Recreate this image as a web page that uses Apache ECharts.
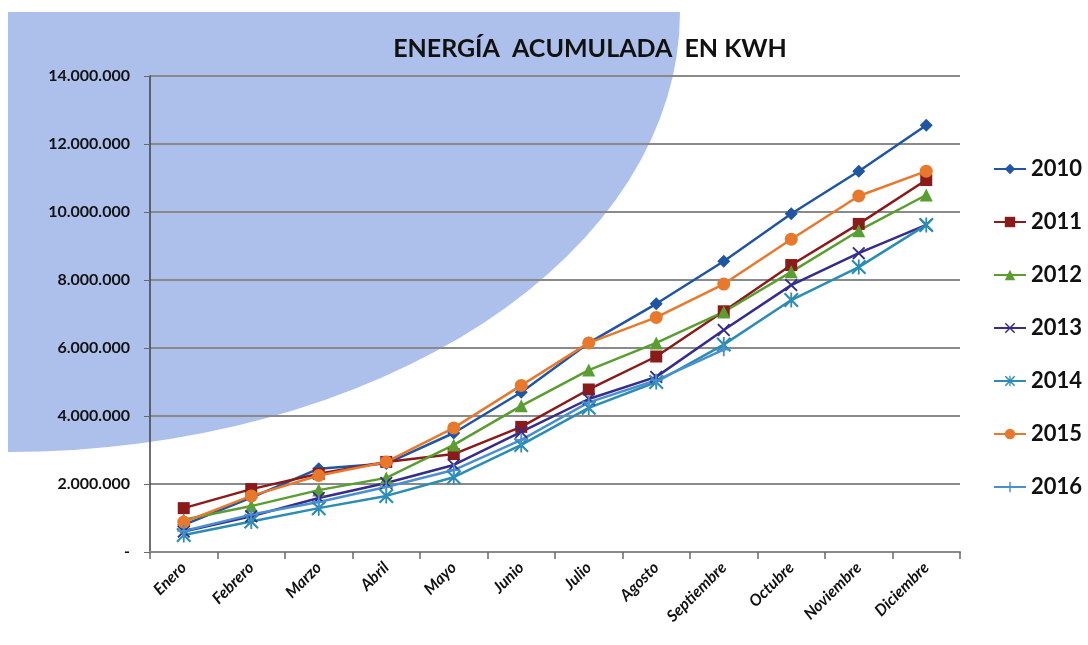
<!DOCTYPE html>
<html>
<head>
<meta charset="utf-8">
<script src="https://cdn.jsdelivr.net/npm/echarts@6/dist/echarts.min.js"></script>
<style>
  html, body { margin: 0; padding: 0; background: #fff; }
  #chart { width: 1088px; height: 645px; }
</style>
</head>
<body>
<div id="chart"></div>
<script>
// meses
var meses = ['Enero', 'Febrero', 'Marzo', 'Abril', 'Mayo', 'Junio', 'Julio',
  'Agosto', 'Septiembre', 'Octubre', 'Noviembre', 'Diciembre'];

// energia acumulada (kWh) por año
var e2010 = [800000, 1600000, 2450000, 2600000, 3500000, 4700000, 6150000, 7300000, 8550000, 9950000, 11200000, 12550000];
var e2011 = [1290000, 1850000, 2300000, 2650000, 2880000, 3680000, 4780000, 5750000, 7080000, 8440000, 9650000, 10940000];
var e2012 = [950000, 1350000, 1820000, 2180000, 3150000, 4300000, 5350000, 6150000, 7060000, 8240000, 9450000, 10500000];
var e2013 = [600000, 1050000, 1590000, 2030000, 2560000, 3530000, 4500000, 5150000, 6530000, 7850000, 8790000, 9620000];
var e2014 = [500000, 900000, 1290000, 1650000, 2200000, 3150000, 4240000, 5000000, 6100000, 7410000, 8380000, 9620000];
var e2015 = [880000, 1650000, 2250000, 2650000, 3650000, 4900000, 6150000, 6900000, 7880000, 9200000, 10470000, 11200000];
var e2016 = [620000, 1100000, 1470000, 1910000, 2410000, 3300000, 4400000, 5050000, 5950000, null, null, null];

var anios = ['2010', '2011', '2012', '2013', '2014', '2015', '2016'];
var valores = [e2010, e2011, e2012, e2013, e2014, e2015, e2016];
var colores = ['#1f55a3', '#8b1a1a', '#5a9e32', '#352c8c', '#2b8cb4', '#e8792c', '#4a90d0'];

var symX = 'path://M0,1L1,0L5,4L9,0L10,1L6,5L10,9L9,10L5,6L1,10L0,9L4,5Z';
var symAst = 'path://M0,1L1,0L5,4L9,0L10,1L6,5L10,9L9,10L5,6L1,10L0,9L4,5Z M4.4,0H5.6V10H4.4Z';
var symPlus = 'path://M4.3,0H5.7V4.3H10V5.7H5.7V10H4.3V5.7H0V4.3H4.3Z';
var simbolos = ['diamond', 'rect', 'triangle', symX, symAst, 'circle', symPlus];
var tamanos = [13, 12, 13, 13, 15, 13, 13];

function miles(v) {
  if (v === 0) return '-';
  return String(v).replace(/\B(?=(\d{3})+(?!\d))/g, '.');
}

var series = anios.map(function (a, i) {
  return {
    name: a,
    type: 'line',
    data: valores[i],
    symbol: simbolos[i],
    symbolSize: tamanos[i],
    showAllSymbol: true,
    lineStyle: { color: colores[i], width: 2.5 },
    itemStyle: { color: colores[i] },
    emphasis: { disabled: true },
  };
});

var chart = echarts.init(document.getElementById('chart'));
chart.setOption({
  backgroundColor: '#fff',
  animation: false,
  graphic: {
    z: -10,
    elements: [{
      type: 'sector',
      z: -10,
      x: 8,
      y: 12,
      scaleY: 440 / 672,
      shape: { cx: 0, cy: 0, r: 672, startAngle: 0, endAngle: Math.PI / 2 },
      style: { fill: '#adc0ec' },
      silent: true,
    }],
  },
  title: {
    text: 'ENERGÍA  ACUMULADA  EN KWH',
    left: 585,
    textAlign: 'center',
    top: 31,
    textStyle: {
      fontFamily: 'Lato',
      fontWeight: 'bold',
      fontSize: 25,
      color: '#111',
    },
  },
  legend: {
    orient: 'vertical',
    left: 988,
    top: 152,
    itemWidth: 32,
    itemHeight: 13,
    itemGap: 29,
    data: anios,
    textStyle: {
      fontFamily: 'Lato',
      fontWeight: 'bold',
      fontSize: 22,
      lineHeight: 24,
      color: '#111',
    },
  },
  grid: {
    left: 150,
    right: 128,
    top: 76,
    bottom: 93,
  },
  xAxis: {
    type: 'category',
    data: meses,
    boundaryGap: true,
    axisLine: { lineStyle: { color: '#8a8a8a', width: 2 } },
    axisTick: { show: true, length: 7, lineStyle: { color: '#6a6a6a', width: 1.5 } },
    axisLabel: {
      rotate: 45,
      margin: 13,
      interval: 0,
      fontFamily: 'Lato',
      fontStyle: 'italic',
      fontWeight: 'bold',
      fontSize: 16,
      color: '#111',
    },
  },
  yAxis: {
    type: 'value',
    min: 0,
    max: 14000000,
    interval: 2000000,
    axisLine: { show: true, lineStyle: { color: '#404040', width: 1.5 } },
    axisTick: { show: true, length: 6, lineStyle: { color: '#6a6a6a' } },
    splitLine: { lineStyle: { color: '#8a8a8a', width: 2 } },
    axisLabel: {
      formatter: miles,
      margin: 20,
      fontFamily: 'Lato',
      fontWeight: 'bold',
      fontSize: 16,
      color: '#111',
    },
  },
  series: series,
});
</script>
</body>
</html>
